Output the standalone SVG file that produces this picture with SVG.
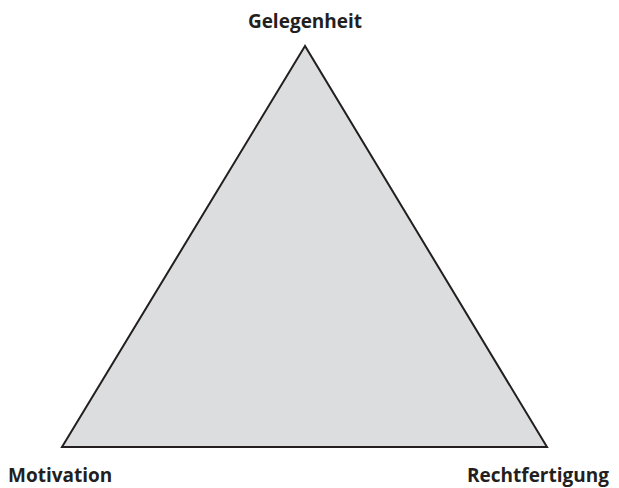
<svg xmlns="http://www.w3.org/2000/svg" width="619" height="488" viewBox="0 0 619 488">
<style>
.lbl{font-family:"Open Sans","Liberation Sans",sans-serif;font-weight:bold;font-size:19px;fill:#231f20}
</style>
<rect width="619" height="488" fill="#ffffff"/>
<g id="triangle">
<polygon points="305,46 62,447 547,447" fill="#dcdddf" stroke="#231f20" stroke-width="2" stroke-linejoin="miter"/>
</g>
<g id="gelegenheit"><text class="lbl" x="305" y="28" text-anchor="middle">Gelegenheit</text></g>
<g id="motivation"><text class="lbl" x="8" y="482">Motivation</text></g>
<g id="rechtfertigung"><text class="lbl" x="609" y="482" text-anchor="end">Rechtfertigung</text></g>
</svg>
